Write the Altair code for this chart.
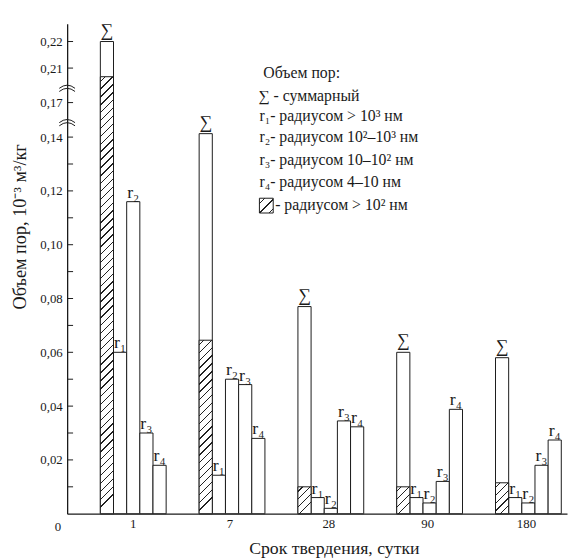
import altair as alt
import numpy as np
import pandas as pd

# ---- data ----
groups = ["1", "7", "28", "90", "180"]
series = ["S", "r1", "r2", "r3", "r4"]
series_text = ["∑", "r₁", "r₂", "r₃", "r₄"]
total = [0.220, 0.143, 0.077, 0.060, 0.058]
over_100nm = [0.200, 0.0645, 0.010, 0.010, 0.0115]
r1 = [0.060, 0.0143, 0.006, 0.006, 0.006]
r2 = [0.116, 0.050, 0.002, 0.004, 0.004]
r3 = [0.030, 0.048, 0.0345, 0.012, 0.018]
r4 = [0.018, 0.028, 0.0323, 0.0388, 0.0274]

# broken y axis: piecewise scale
y_domain = [0.0, 0.14, 0.17, 0.21, 0.2267]
y_range = [497, 115, 80, 45, 0]
tick_values = [round(0.01 * i, 2) for i in range(1, 15)] + [0.17, 0.21, 0.22]
label_values = [0.02, 0.04, 0.06, 0.08, 0.10, 0.12, 0.14, 0.17, 0.21, 0.22]
break_values = [0.1529, 0.187]

legend_title = "Объем пор:"
legend_lines = [
    "∑ - суммарный",
    "r₁- радиусом > 10³ нм",
    "r₂- радиусом 10²–10³ нм",
    "r₃- радиусом 10–10² нм",
    "r₄- радиусом 4–10 нм",
]
hatch_legend = "- радиусом > 10² нм"
x_title = "Срок твердения, сутки"
y_title = "Объем пор, 10⁻³ м³/кг"

FONT = "Liberation Serif"
INK = "#1a1a1a"
PW, PH = 507, 497

# ---- tables ----
rows = []
for i, g in enumerate(groups):
    vals = [total[i], r1[i], r2[i], r3[i], r4[i]]
    for s, t, v in zip(series, series_text, vals):
        rows.append({"group": g, "series": s, "label": t, "value": v})
bars = pd.DataFrame(rows)
hatch_df = pd.DataFrame({"group": groups, "series": ["S"] * 5, "value": over_100nm})
ticks_df = pd.DataFrame({"value": tick_values})
breaks_df = pd.DataFrame({"value": break_values})
zero_df = pd.DataFrame({"value": [0.0], "t": ["0"]})
xlab_df = pd.DataFrame({"group": groups, "series": ["r2"] * 5, "t": groups})


def ypix(v):
    return float(np.interp(v, y_domain, y_range))


def hatch(w, h, period=8.0, lw=1.0, color="#222"):
    L = (w * w + h * h) / h
    stops = [alt.GradientStop(color="white", offset=0)]
    pos = period / 2
    d = lw * 1.414
    while pos < w + h:
        o1 = pos / L
        if o1 >= 1:
            break
        o2 = min((pos + d) / L, 1.0)
        stops += [
            alt.GradientStop(color="white", offset=o1),
            alt.GradientStop(color=color, offset=o1),
            alt.GradientStop(color=color, offset=o2),
            alt.GradientStop(color="white", offset=o2),
        ]
        pos += period
    stops.append(alt.GradientStop(color="white", offset=1))
    return alt.LinearGradient(gradient="linear", stops=stops, x1=0, y1=0, x2=w / h, y2=1)


xscale = alt.Scale(domain=groups, paddingInner=0.334, paddingOuter=0.197, align=0.853)
xoscale = alt.Scale(domain=series, paddingInner=0, paddingOuter=0)
yscale = alt.Scale(domain=y_domain, range=y_range, nice=False, zero=False)

x_axis = alt.Axis(
    title=None, ticks=False, labels=False, grid=False,
    domainColor=INK, domainWidth=1.3,
)
y_axis = alt.Axis(
    title=None, values=label_values, ticks=False, grid=False,
    labelExpr="replace(format(datum.value, '.2f'), '.', ',')",
    labelFont=FONT, labelFontSize=13, labelColor=INK, labelPadding=5, labelOverlap=False,
    domainColor=INK, domainWidth=1.3,
)


def X():
    return alt.X("group:N", scale=xscale, axis=x_axis, sort=groups)


def Y():
    return alt.Y("value:Q", scale=yscale, axis=y_axis)


XO = alt.XOffset("series:N", scale=xoscale, sort=series)

base = alt.Chart(bars)
bar_layer = base.mark_bar(fill="white", stroke=INK, strokeWidth=1).encode(
    x=X(), xOffset=XO, y=Y()
)

bw = (PW * (1 - 0.334) / (5 - 0.334 + 2 * 0.197)) / 5
hatch_layers = []
for i, g in enumerate(groups):
    h = PH - ypix(over_100nm[i])
    hatch_layers.append(
        alt.Chart(hatch_df).transform_filter(alt.datum.group == g)
        .mark_bar(fill=hatch(bw, h), stroke=INK, strokeWidth=1)
        .encode(x=X(), xOffset=XO, y=Y())
    )

sigma_labels = base.transform_filter(alt.datum.series == "S").mark_text(
    font=FONT, fontSize=18, color=INK, align="center", baseline="bottom", dy=-2
).encode(x=X(), xOffset=XO, y=Y(), text="label:N")
r_labels = base.transform_filter(alt.datum.series != "S").mark_text(
    font=FONT, fontSize=18, color=INK, align="left", baseline="bottom",
    dx=-bw / 2 + 0.5, dy=0,
).encode(x=X(), xOffset=XO, y=Y(), text="label:N")

# category labels under the axis
xlab_first = alt.Chart(xlab_df).transform_filter(alt.datum.group == "1").mark_text(
    font=FONT, fontSize=13, color=INK, align="center", baseline="top"
).encode(x=X(), xOffset=XO, y=alt.value(PH + 4), text="t:N")
xlab_rest = alt.Chart(xlab_df).transform_filter(alt.datum.group != "1").mark_text(
    font=FONT, fontSize=13, color=INK, align="center", baseline="top", dx=-2
).encode(x=X(), xOffset=XO, y=alt.value(PH + 4), text="t:N")

tick_layer = alt.Chart(ticks_df).mark_rule(color=INK, strokeWidth=1).encode(
    x=alt.value(0), x2=alt.value(6), y=Y()
)
zero_label = alt.Chart(zero_df).mark_text(
    font=FONT, fontSize=13, color=INK, align="right", baseline="top", dy=8
).encode(x=alt.value(-6), y=Y(), text="t:N")
break_marks = alt.Chart(breaks_df).mark_point(
    shape="M -1 0.05 Q 0 -0.75 1 0.05 M -1 0.45 Q 0 -0.35 1 0.45",
    size=256, filled=False, color=INK, strokeWidth=1, opacity=1,
).encode(x=alt.value(0), y=Y())

titles = [
    alt.Chart(pd.DataFrame({"t": [x_title]})).mark_text(
        font=FONT, fontSize=18, color=INK, align="center", baseline="middle"
    ).encode(x=alt.value(271), y=alt.value(533), text="t:N"),
    alt.Chart(pd.DataFrame({"t": [y_title]})).mark_text(
        font=FONT, fontSize=18.5, color=INK, align="center", baseline="middle", angle=270
    ).encode(x=alt.value(-48), y=alt.value(206), text="t:N"),
]

leg_df = pd.DataFrame({
    "text": [legend_title] + legend_lines + [hatch_legend],
    "x": [199, 194, 195, 195, 195, 195, 211],
    "y": [50, 73, 94, 115, 138, 161, 184],
})
legend_layers = []
for _, r in leg_df.iterrows():
    legend_layers.append(
        alt.Chart(pd.DataFrame({"t": [r["text"]]})).mark_text(
            font=FONT, fontSize=16, color=INK, align="left", baseline="middle"
        ).encode(x=alt.value(r["x"]), y=alt.value(r["y"]), text="t:N")
    )
legend_box = alt.Chart(pd.DataFrame({"k": [1]})).mark_rect(
    fill=hatch(14, 15, period=9.5), stroke=INK, strokeWidth=1
).encode(x=alt.value(195), x2=alt.value(209), y=alt.value(177), y2=alt.value(192))

chart = alt.layer(
    bar_layer, *hatch_layers, sigma_labels, r_labels, xlab_first, xlab_rest,
    tick_layer, zero_label, break_marks, *titles, *legend_layers, legend_box,
).properties(
    width=PW, height=PH,
    padding={"left": 60, "top": 12, "right": 1, "bottom": 43},
    autosize=alt.AutoSizeParams(type="none"),
    background="white",
).configure_view(stroke=None)

chart.save("out.html", embed_options={"renderer": "svg", "actions": False})
